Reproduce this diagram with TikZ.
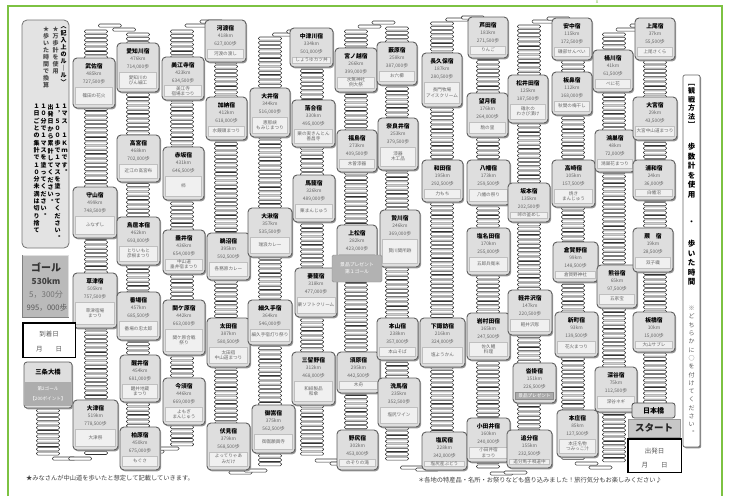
\documentclass[tikz,border=0pt]{standalone}
\usepackage{fontspec}
\usepackage{graphicx}
\setmainfont{Noto Sans CJK JP}
\definecolor{frameG}{HTML}{7DC242}
\definecolor{boxF}{HTML}{DEDEDE}
\definecolor{boxD}{HTML}{5E5E5E}
\definecolor{labF}{HTML}{F0F0F0}
\definecolor{txtG}{HTML}{666666}
\ExplSyntaxOn
\cs_new:Npn \my_vchar:n #1 { \hbox_to_wd:nn {1em} { \hfil #1 \hfil } }
\NewDocumentCommand \vtext { O{1.12em} m }
  {
    \vbox:n
      {
        \baselineskip=#1 \relax
        \lineskiplimit=-100pt \relax
        \lineskip=0pt \relax
        \tl_map_function:nN {#2} \my_vchar:n
      }
  }
\ExplSyntaxOff
\newcommand\ladder[3]{%
  \pgfmathsetmacro\ysecond{#2+4.3}%
  \foreach \yy in {#2,\ysecond,...,#3}{%
    \draw[rung] (#1-11.5,\yy) rectangle (#1+11.5,\yy+3.1);}}
\newcommand\bridge[4]{%
  \draw[rung] ({#1+0.33*(#2-#1)-11.5},#3) rectangle +(23,3.1);
  \draw[rung] ({#1+0.67*(#2-#1)-11.5},#4) rectangle +(23,3.1);}
\newcommand\station[9]{%
  \fill[stshadow] (#2+1.2,#3+1.4) rectangle (#4+1.2,#5+1.4);
  \draw[stbox] (#2,#3) rectangle (#4,#5);
  \node[stname] (#1) at ({(#2+#4)/2},#3+8.5) {#6};
  \node[stnum] (#1-k) at ({(#2+#4)/2},#3+16) {#7km};
  \node[stnum] (#1-s) at ({(#2+#4)/2},#3+23.5) {#8歩};
  \node[stlab, minimum width={#4-#2-5}, minimum height={#5-#3-32.5}] (#1-l)
     at ({(#2+#4)/2},{(#3+#5+25)/2}) {#9};}
\tikzset{
  rung/.style={draw=black!80, fill=white, line width=0.55pt, rounded corners=1.3pt},
  stbox/.style={draw=boxD, fill=boxF, line width=0.9pt, rounded corners=4pt},
  stshadow/.style={fill=black!40, rounded corners=4pt},
  stname/.style={font=\fontsize{5.8}{6}\selectfont\bfseries, inner sep=0pt},
  stnum/.style={font=\fontsize{4.8}{5}\selectfont, text=txtG, inner sep=0pt},
  stlab/.style={font=\fontsize{4.6}{5.4}\selectfont, text=txtG, fill=labF, draw=black!25,
    line width=0.35pt, inner sep=0.6pt, align=center},
  vt/.style={anchor=north, inner sep=0pt},
  datebox/.style={draw=black, fill=white, line width=1.6pt},
  datetxt/.style={font=\fontsize{6.5}{7}\selectfont, text=black!65, inner sep=0pt},
}
\begin{document}
\begin{tikzpicture}[x=1pt,y=-1pt]
\useasboundingbox (0,0) rectangle (730,496);
\fill[white] (0,0) rectangle (730,496);
\draw[frameG, line width=1.8pt] (8,496) -- (8,6) -- (722,6) -- (722,496);
\node[text=frameG, font=\fontsize{5}{5}\selectfont, inner sep=0pt] (xmark) at (597,2.5) {x};

% ---- ladders ----
\ladder{48}{409}{453}
\ladder{96}{30}{452}
\ladder{138}{33}{450}
\ladder{182}{30}{443}
\ladder{226}{22}{467}
\ladder{270}{37}{464}
\ladder{312}{35}{455}
\ladder{356}{30}{458}
\ladder{397}{27}{461}
\ladder{442}{22}{464}
\ladder{488}{22}{468}
\ladder{529}{25}{466}
\ladder{573}{22}{458}
\ladder{614}{33}{462}
\ladder{655}{22}{402}
% ---- bridges (top) ----
\bridge{96}{138}{24}{28}
\bridge{182}{226}{24}{20}
\bridge{270}{312}{33}{30}
\bridge{356}{397}{25}{21}
\bridge{442}{488}{18}{16}
\bridge{529}{573}{20}{17}
\bridge{614}{655}{28}{24}
% ---- bridges (bottom) ----
\bridge{48}{96}{457}{457}
\bridge{138}{182}{450}{447}
\bridge{226}{270}{471}{469}
\bridge{312}{356}{459}{462}
\bridge{397}{442}{466}{468}
\bridge{488}{529}{472}{471}
\bridge{573}{614}{462}{466}

% ---- stations ----
\station{musa}{73}{58}{115}{108}{武佐宿}{485}{727,500}{篠田の花火}
\station{moriyama}{73}{187}{117}{238}{守山宿}{499}{748,500}{ふなずし}
\station{kusatsu}{73}{273}{117}{328}{草津宿}{505}{757,500}{草津宿場\\まつり}
\station{otsu}{73}{400}{118}{450}{大津宿}{519}{778,500}{大津祭}

\station{echigawa}{117}{43}{159}{92}{愛知川宿}{476}{714,000}{愛知川の\\びん細工}
\station{takamiya}{117}{135}{160}{182}{高宮宿}{468}{702,000}{近江の高宮布}
\station{toriimoto}{117}{217}{160}{265}{鳥居本宿}{462}{693,000}{とりいもと\\彦根まつり}
\station{banba}{117}{292}{160}{340}{番場宿}{457}{685,500}{番場の忠太郎}
\station{samegai}{120}{355}{160}{402}{醒井宿}{454}{681,000}{醒井地蔵\\まつり}
\station{kashiwabara}{120}{427}{160}{470}{柏原宿}{450}{675,000}{もぐさ}

\station{mieji}{162}{57}{204}{100}{美江寺宿}{423}{634,500}{美江寺\\宿場まつり}
\station{akasaka}{163}{147}{204}{200}{赤坂宿}{431}{646,500}{柿}
\station{tarui}{163}{230}{205}{274}{垂井宿}{436}{654,000}{中山道\\垂井宿まつり}
\station{sekigahara}{163}{300}{205}{355}{関ケ原宿}{442}{663,000}{関ケ原合戦\\祭り}
\station{imasu}{163}{378}{205}{425}{今須宿}{446}{669,000}{よもぎ\\まんじゅう}

\station{godo}{205}{20}{246}{62}{河渡宿}{418}{627,000}{河渡の渡し}
\station{kano}{206}{97}{247}{140}{加納宿}{412}{618,000}{水饅頭まつり}
\station{unuma}{207}{233}{250}{280}{鵜沼宿}{395}{592,500}{各務原カレー}
\station{ota}{207}{318}{250}{367}{太田宿}{387}{580,500}{太田宿\\中山道まつり}
\station{fushimi}{207}{423}{250}{470}{伏見宿}{379}{568,500}{よってりゃあ\\みだけ}

\station{oi}{250}{88}{290}{137}{大井宿}{344}{516,000}{恵那峡\\もみじまつり}
\station{okute}{248}{208}{292}{257}{大湫宿}{357}{535,500}{瑞浪カレー}
\station{hosokute}{248}{300}{292}{345}{細久手宿}{364}{546,000}{細久手宿灯り祭り}
\station{mitake}{252}{405}{295}{453}{御嵩宿}{375}{562,500}{御嵩願興寺}

\station{nakatsugawa}{290}{28}{333}{67}{中津川宿}{334}{501,000}{しょうゆカツ丼}
\station{ochiai}{292}{100}{335}{147}{落合宿}{330}{495,000}{栗の実きんとん\\善昌寺}
\station{magome}{293}{175}{335}{222}{馬籠宿}{326}{489,000}{栗まんじゅう}
\station{tsumago}{295}{268}{337}{317}{妻籠宿}{318}{477,000}{栗ソフトクリーム}
\station{midono}{292}{352}{335}{405}{三留野宿}{312}{468,000}{和紙製品\\和傘}

\station{miyanokoshi}{335}{48}{377}{92}{宮ノ越宿}{266}{399,000}{水無神社\\例大祭}
\station{fukushima}{337}{130}{377}{172}{福島宿}{273}{409,500}{木曽漆器}
\station{agematsu}{337}{225}{377}{265}{上松宿}{282}{423,000}{}
\station{suhara}{337}{352}{380}{393}{須原宿}{295}{442,500}{木舟}
\station{nojiri}{337}{430}{378}{470}{野尻宿}{302}{453,000}{のぞりの滝}

\station{yabuhara}{377}{42}{417}{85}{藪原宿}{258}{387,000}{お六櫛}
\station{narai}{378}{118}{418}{170}{奈良井宿}{253}{379,500}{漆器\\木工品}
\station{niekawa}{380}{210}{420}{267}{贄川宿}{246}{369,000}{贄川関所跡}
\station{motoyama}{377}{318}{418}{360}{本山宿}{238}{357,000}{本山そば}
\station{seba}{378}{378}{420}{427}{洗馬宿}{235}{352,500}{塩尻ワイン}

\station{nagakubo}{422}{53}{462}{107}{長久保宿}{187}{280,500}{長門牧場\\アイスクリーム}
\station{wada}{422}{160}{463}{202}{和田宿}{195}{292,500}{力もち}
\station{shimosuwa}{420}{318}{465}{367}{下諏訪宿}{216}{324,000}{塩ようかん}
\station{shiojiri}{422}{432}{467}{470}{塩尻宿}{228}{342,000}{塩尻産ぶどう}

\station{ashida}{468}{17}{508}{58}{芦田宿}{181}{271,500}{りんご}
\station{mochizuki}{467}{93}{508}{137}{望月宿}{176}{264,000}{駒の里}
\station{yawata}{467}{160}{510}{205}{八幡宿}{173}{259,500}{八幡の祭り}
\station{shionada}{467}{228}{510}{275}{塩名田宿}{170}{255,000}{五郎兵衛米}
\station{iwamurada}{467}{313}{510}{360}{岩村田宿}{165}{247,500}{佐久鯉\\料理}
\station{otai}{467}{418}{510}{462}{小田井宿}{160}{240,000}{小田井宿\\まつり}

\station{matsuida}{508}{75}{548}{123}{松井田宿}{125}{187,500}{碓氷の\\わさび漬け}
\station{sakamoto}{508}{183}{550}{222}{坂本宿}{135}{202,500}{峠の釜めし}
\station{karuizawa}{508}{290}{552}{335}{軽井沢宿}{147}{220,500}{軽井沢彫}
\begin{scope}[stlab/.append style={fill=black!33, text=white, draw=black!45}]
\station{kutsukake}{513}{363}{556}{403}{沓掛宿}{151}{226,500}{景品プレゼント}
\end{scope}
\station{oiwake}{507}{430}{552}{468}{追分宿}{155}{232,500}{追分馬子唄道中}

\station{annaka}{552}{18}{592}{60}{安中宿}{115}{172,500}{磯部せんべい}
\station{itahana}{552}{72}{592}{115}{板鼻宿}{112}{168,000}{秋間の梅干し}
\station{takasaki}{552}{160}{595}{207}{高崎宿}{105}{157,500}{焼き\\まんじゅう}
\station{kuragano}{553}{242}{598}{282}{倉賀野宿}{99}{148,500}{倉賀野神社}
\station{shinmachi}{555}{312}{598}{357}{新町宿}{93}{139,500}{花火まつり}
\station{honjo}{557}{410}{598}{457}{本庄宿}{85}{127,500}{本庄名物\\つみっこ汁}

\station{okegawa}{593}{50}{633}{92}{桶川宿}{41}{61,500}{べに花}
\station{konosu}{595}{130}{635}{172}{鴻巣宿}{48}{72,000}{鴻巣花まつり}
\station{kumagaya}{597}{265}{637}{308}{熊谷宿}{65}{97,500}{五家宝}
\station{fukaya}{595}{367}{637}{412}{深谷宿}{75}{112,500}{深谷ネギ}

\station{ageo}{635}{18}{675}{60}{上尾宿}{37}{55,500}{上尾さくら}
\station{omiya}{633}{97}{677}{140}{大宮宿}{29}{43,500}{大宮中山道まつり}
\station{urawa}{633}{160}{675}{200}{浦和宿}{24}{36,000}{白幡沼}
\station{warabi}{633}{228}{673}{272}{蕨　宿}{19}{28,500}{双子織}
\station{itabashi}{633}{312}{675}{352}{板橋宿}{10}{15,000}{大山サブレ}

% first goal
\node[fill=black!30, draw=black!45, rounded corners=1.5pt, minimum width=50pt, minimum height=27pt,
  text=white, align=center, font=\fontsize{4.8}{7}\selectfont, inner sep=0pt] (goal1) at (357,268.5)
  {景品プレゼント\\第１ゴール};

% ---- left rules panel ----
\draw[fill=black!11, draw=black!55, line width=0.8pt, rounded corners=5pt] (22,20) rectangle (69,248);
\node[vt, font=\fontsize{6}{7}\selectfont\bfseries] (r1) at (63.5,26) {\vtext[7pt]{︿記入上のル｜ル﹀}};
\node[vt, font=\fontsize{6}{7}\selectfont\bfseries, text=black!70] (r2) at (55.5,26) {\vtext[7pt]{★万歩計を使用}};
\node[vt, font=\fontsize{6}{7}\selectfont\bfseries, text=black!70] (r3) at (46,26) {\vtext[7pt]{★歩いた時間で換算}};
\node[vt, font=\fontsize{6}{7}\selectfont\bfseries] (l1) at (64.5,104) {\vtext[7.3pt]{１マス　１Ｋｍです︒}};
\node[vt, font=\fontsize{6}{7}\selectfont\bfseries] (l2) at (57.5,104) {\vtext[7.3pt]{１︐５００歩で１マスを塗ってください︒}};
\node[vt, font=\fontsize{6}{7}\selectfont\bfseries] (l3) at (50.5,104) {\vtext[7.3pt]{出発日から累計してください︒}};
\node[vt, font=\fontsize{6}{7}\selectfont\bfseries] (l4) at (43.5,104) {\vtext[7.3pt]{１０分で１マスを塗ってください︒}};
\node[vt, font=\fontsize{6}{7}\selectfont\bfseries] (l5) at (36.5,104) {\vtext[7.3pt]{１日ごとの集計で１０分未満は切り捨て}};

% ---- goal ----
\fill[black!27] (22,255) rectangle (69,318);
\draw[black!50, line width=1.5pt] (22.7,255) -- (22.7,317.3) -- (69,317.3);
\draw[black!12, line width=0.8pt] (23,255.4) -- (68.6,255.4) -- (68.6,317);
\node[font=\fontsize{10}{11}\selectfont\bfseries, text=black!80, inner sep=0pt] (goaltxt) at (46,267) {ゴール};
\node[font=\fontsize{8.3}{9}\selectfont\bfseries, text=black!75, inner sep=0pt] (goalkm) at (46,281) {530km};
\node[font=\fontsize{8}{9}\selectfont, text=black!55, inner sep=0pt] (goalmin) at (46,295) {5，300分};
\node[font=\fontsize{7.6}{9}\selectfont, text=black!65, inner sep=0pt] (goalstep) at (47,308) {995，000歩};

% ---- arrival date ----
\draw[datebox] (22.8,322.8) rectangle (75.5,357.5);
\node[datetxt] (arr1) at (49,334) {到着日};
\node[datetxt] (arr2) at (49,349) {月　　日};

% ---- Sanjo Ohashi ----
\fill[black!38, rounded corners=3pt] (25.2,363.4) rectangle (73.2,409.4);
\draw[fill=boxF, draw=boxD, line width=0.8pt, rounded corners=3pt] (24,362) rectangle (72,408);
\fill[black!32] (25,382) rectangle (71,406);
\node[font=\fontsize{6.3}{7}\selectfont\bfseries, inner sep=0pt] (sanjo) at (48,372.5) {三条大橋};
\node[font=\fontsize{4.6}{5}\selectfont, text=white, inner sep=0pt] (sanjo2) at (48,389) {第2ゴール};
\node[font=\fontsize{4.6}{5}\selectfont, text=white, inner sep=0pt] (sanjo3) at (48,399) {【200ポイント】};

% ---- right panel ----
\fill[black!45, rounded corners=2pt] (684.2,76.3) rectangle (701.2,448.3);
\draw[fill=white, draw=black!60, line width=0.7pt, rounded corners=2pt] (683,75) rectangle (700,447);
\node[vt, font=\fontsize{7}{8}\selectfont\bfseries] (rp1) at (691.5,84) {\vtext[8.5pt]{﹇観戦方法﹈}};
\node[vt, font=\fontsize{7.5}{8}\selectfont\bfseries] (rp2) at (691.5,143) {\vtext[9.5pt]{歩数計を使用}};
\node[font=\fontsize{7}{8}\selectfont\bfseries, inner sep=0pt] (rp3) at (691.5,223) {・};
\node[vt, font=\fontsize{7.5}{8}\selectfont\bfseries] (rp4) at (691.5,240) {\vtext[9.5pt]{歩いた時間}};
\node[vt, font=\fontsize{6}{7}\selectfont, text=black!65] (rp5) at (691.5,306) {\vtext[8.3pt]{※どちらかに○を付けてください︒}};

% ---- start ----
\draw[fill=black!15, draw=black!70, line width=0.8pt, rounded corners=2.5pt] (632,403) rectangle (675,418);
\node[font=\fontsize{7}{8}\selectfont\bfseries, inner sep=0pt] (nihonbashi) at (653.5,410.5) {日本橋};
\draw[fill=black!22, draw=black!40, line width=0.8pt] (628,419) rectangle (680,437);
\node[font=\fontsize{9.5}{10}\selectfont\bfseries, text=black!85, inner sep=0pt] (start) at (654,428) {スタート};
\draw[datebox] (627.8,438.8) rectangle (681.5,472.5);
\node[datetxt] (dep1) at (654.5,451) {出発日};
\node[datetxt] (dep2) at (654.5,465) {月　　日};

% ---- notes ----
\node[anchor=west, font=\fontsize{6.25}{7}\selectfont, text=black!75, inner sep=0pt] (note1) at (26,478) {★みなさんが中山道を歩いたと想定して記載していきます。};
\node[anchor=west, font=\fontsize{6.25}{7}\selectfont, text=black!75, inner sep=0pt] (note2) at (418,480) {＊各地の特産品・名所・お祭りなども盛り込みました！旅行気分もお楽しみください♪};
\end{tikzpicture}
\end{document}
